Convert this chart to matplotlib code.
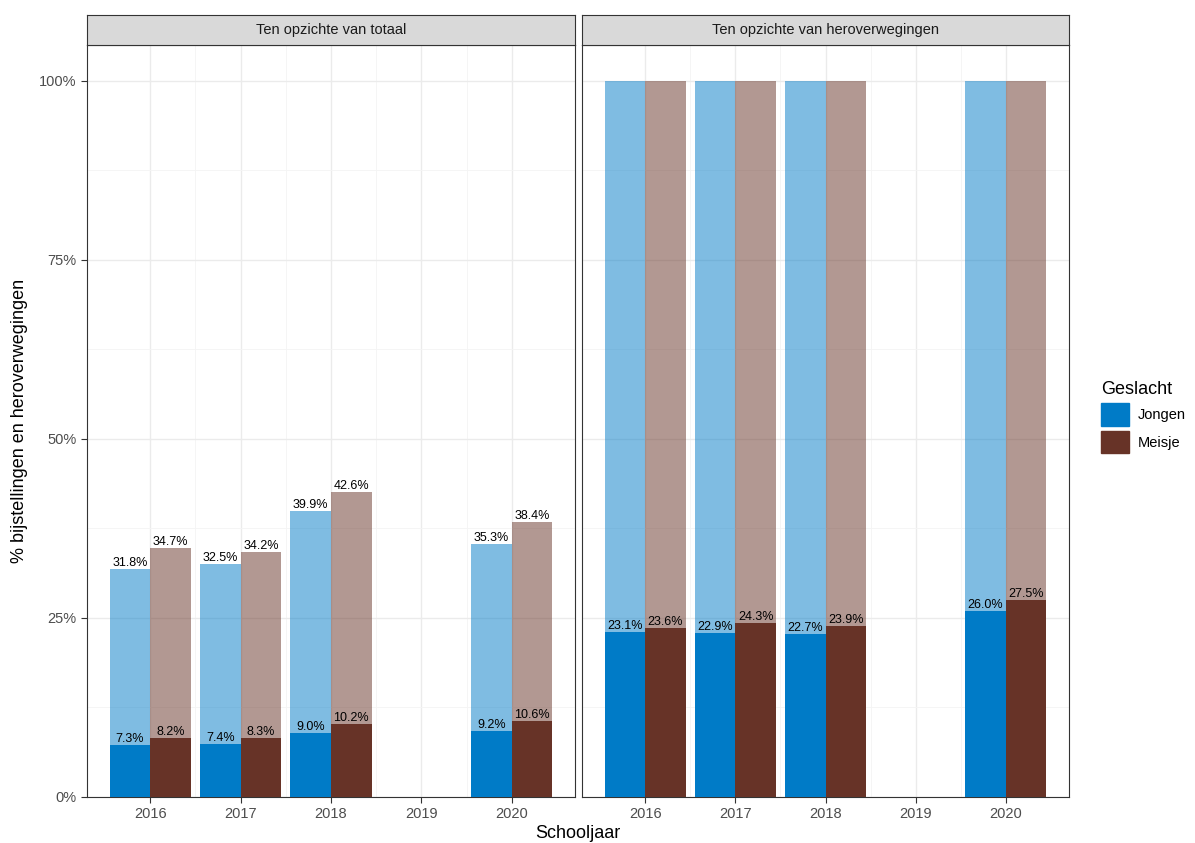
import matplotlib
matplotlib.use("Agg")
import matplotlib.pyplot as plt
import numpy as np
from matplotlib.patches import Patch

plt.rcParams['font.family'] = ['Liberation Sans', 'DejaVu Sans']

years = [2016, 2017, 2018, 2020]
panels = ["Ten opzichte van totaal", "Ten opzichte van heroverwegingen"]
# panel 1
tot_j = [31.8, 32.5, 39.9, 35.3]
tot_m = [34.7, 34.2, 42.6, 38.4]
bij_j = [7.3, 7.4, 9.0, 9.2]
bij_m = [8.2, 8.3, 10.2, 10.6]
# panel 2
her_j = [100, 100, 100, 100]
her_m = [100, 100, 100, 100]
bij2_j = [23.1, 22.9, 22.7, 26.0]
bij2_m = [23.6, 24.3, 23.9, 27.5]

cj, cm = "#007BC7", "#673327"
fig = plt.figure(figsize=(11.95, 8.43), dpi=100)
W, H = 1195, 843
axes = []
for i, (x0, x1) in enumerate([(87, 575), (582, 1069)]):
    ax = fig.add_axes([x0 / W, 1 - 797 / H, (x1 - x0) / W, (797 - 45) / H])
    axes.append(ax)
    sax = fig.add_axes([x0 / W, 1 - 45 / H, (x1 - x0) / W, 30 / H])
    sax.set_facecolor("#D9D9D9")
    sax.set_xticks([]); sax.set_yticks([])
    for s in sax.spines.values():
        s.set_color("#333333"); s.set_linewidth(0.8)
    sax.text(0.5, 0.5, panels[i], ha="center", va="center", fontsize=10.5, color="#1A1A1A")

data = [(tot_j, tot_m, bij_j, bij_m), (her_j, her_m, bij2_j, bij2_m)]
w = 0.45
for i, ax in enumerate(axes):
    tj, tm, bj, bm = data[i]
    x = np.array(years)
    ax.bar(x - w / 2, np.array(tj) / 100, w, color=cj, alpha=0.5, lw=0, zorder=2)
    ax.bar(x + w / 2, np.array(tm) / 100, w, color=cm, alpha=0.5, lw=0, zorder=2)
    ax.bar(x - w / 2, np.array(bj) / 100, w, color=cj, lw=0, zorder=3)
    ax.bar(x + w / 2, np.array(bm) / 100, w, color=cm, lw=0, zorder=3)
    for k in range(len(years)):
        if i == 0:
            ax.text(x[k] - w / 2, tj[k] / 100, f"{tj[k]:.1f}%", ha="center", va="bottom", fontsize=9, zorder=4)
            ax.text(x[k] + w / 2, tm[k] / 100, f"{tm[k]:.1f}%", ha="center", va="bottom", fontsize=9, zorder=4)
        ax.text(x[k] - w / 2, bj[k] / 100, f"{bj[k]:.1f}%", ha="center", va="bottom", fontsize=9, zorder=4)
        ax.text(x[k] + w / 2, bm[k] / 100, f"{bm[k]:.1f}%", ha="center", va="bottom", fontsize=9, zorder=4)
    ax.set_xlim(2015.3, 2020.7)
    ax.set_ylim(0, 1.05)
    ax.set_xticks([2016, 2017, 2018, 2019, 2020])
    ax.set_xticks([2016.5, 2017.5, 2018.5, 2019.5], minor=True)
    ax.set_yticks([0, 0.25, 0.5, 0.75, 1.0])
    ax.set_yticks([0.125, 0.375, 0.625, 0.875], minor=True)
    ax.grid(which="major", color="#EBEBEB", lw=1.0, zorder=0)
    ax.grid(which="minor", color="#F4F4F4", lw=0.6, zorder=0)
    ax.set_axisbelow(True)
    ax.tick_params(which="minor", length=0)
    ax.tick_params(which="major", colors="#333333", labelcolor="#4D4D4D", labelsize=10.5, length=4)
    for s in ax.spines.values():
        s.set_color("#333333"); s.set_linewidth(0.8)
    if i == 0:
        ax.set_yticklabels(["0%", "25%", "50%", "75%", "100%"])
    else:
        ax.set_yticklabels([])
        ax.tick_params(axis="y", length=0)

fig.text(20 / W, 1 - 421 / H, "% bijstellingen en heroverwegingen", rotation=90, ha="center", va="center", fontsize=13)
fig.text(578 / W, 1 - 833 / H, "Schooljaar", ha="center", va="center", fontsize=13)
handles = [Patch(color=cj, label="Jongen"), Patch(color=cm, label="Meisje")]
fig.legend(handles=handles, title="Geslacht", loc="upper left", bbox_to_anchor=(1088 / W, 1 - 368 / H),
           frameon=False, fontsize=10.5, title_fontsize=13, handlelength=1.9, handleheight=2.0,
           handletextpad=0.6, labelspacing=0.35, alignment="left")
fig.savefig("out.png", dpi=100)
